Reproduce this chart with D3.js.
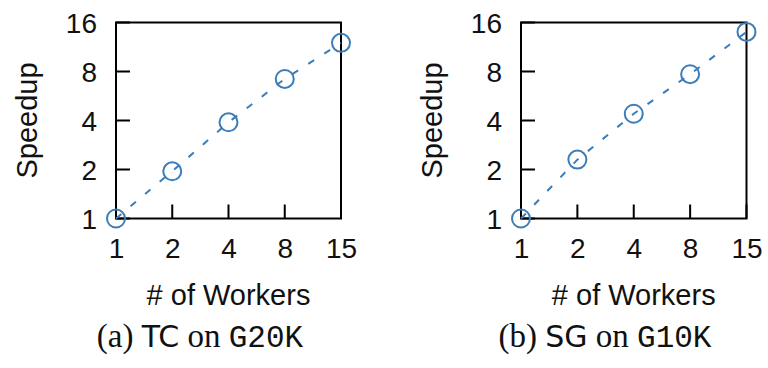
<!DOCTYPE html>
<html>
<head>
<meta charset="utf-8">
<script src="https://cdn.jsdelivr.net/npm/d3@7"></script>
<style>
  html, body { margin: 0; padding: 0; background: #fff; }
  svg { display: block; }
</style>
</head>
<body>
<svg id="chart" width="768" height="368"></svg>
<script>
// Data
const workers = ["1", "2", "4", "8", "15"];
const speedupTC = [1.0, 1.95, 3.9, 7.2, 12.0];
const speedupSG = [1.0, 2.3, 4.4, 7.7, 14.0];
const yTicks = [1, 2, 4, 8, 16];
const panels = [
  { values: speedupTC, letter: "(a) ", algo: "TC", graph: "G20K" },
  { values: speedupSG, letter: "(b) ", algo: "SG", graph: "G10K" }
];

const svg = d3.select("#chart");
const color = "#3a7db8";
const frames = [
  { x0: 116, x1: 341, y0: 22.5, y1: 218.5 },
  { x0: 521, x1: 746.5, y0: 22.5, y1: 218.5 }
];
const tickFont = "'Liberation Sans', Arial, Helvetica, sans-serif";
const tickLen = 14;

panels.forEach((p, i) => {
  const f = frames[i];
  const x = d3.scalePoint().domain(workers).range([f.x0, f.x1]).padding(0);
  const y = d3.scaleLog().base(2).domain([1, 16]).range([f.y1, f.y0]);
  const g = svg.append("g");

  const yAxis = d3.axisLeft(y).tickValues(yTicks).tickSize(0).tickFormat(d3.format("d")).tickPadding(19);
  const gy = g.append("g").attr("transform", `translate(${f.x0},0)`).call(yAxis);
  const xAxis = d3.axisBottom(x).tickSize(0).tickPadding(20);
  const gx = g.append("g").attr("transform", `translate(0,${f.y1})`).call(xAxis);
  [gx, gy].forEach(a => {
    a.select(".domain").remove();
    a.selectAll(".tick line").remove();
    a.selectAll(".tick text").attr("font-family", tickFont).attr("font-size", 28).attr("fill", "#111");
  });
  gy.selectAll(".tick text").attr("dy", "0.36em");
  gx.selectAll(".tick text").attr("dy", "0.71em");

  // frame
  g.append("rect")
    .attr("x", f.x0).attr("y", f.y0)
    .attr("width", f.x1 - f.x0).attr("height", f.y1 - f.y0)
    .attr("fill", "none").attr("stroke", "#000").attr("stroke-width", 2);

  // inward tick marks drawn as thin filled rects
  g.selectAll("rect.ytick").data(yTicks).join("rect").attr("class", "ytick")
    .attr("x", f.x0).attr("y", d => y(d) - 1)
    .attr("width", tickLen).attr("height", 2).attr("fill", "#000");
  g.selectAll("rect.xtick").data(workers).join("rect").attr("class", "xtick")
    .attr("x", d => x(d) - 1).attr("y", f.y1 - tickLen)
    .attr("width", 2).attr("height", tickLen).attr("fill", "#000");

  // line
  const data = workers.map((w, j) => ({ w, v: p.values[j] }));
  g.append("path").datum(data)
    .attr("fill", "none").attr("stroke", color).attr("stroke-width", 2)
    .attr("stroke-dasharray", "7,12")
    .attr("d", d3.line().x(d => x(d.w)).y(d => y(d.v)));
  g.selectAll("circle.pt").data(data).join("circle")
    .attr("class", "pt")
    .attr("cx", d => x(d.w)).attr("cy", d => y(d.v)).attr("r", 9)
    .attr("fill", "none").attr("stroke", color).attr("stroke-width", 2);

  // axis titles
  g.append("text")
    .attr("x", (f.x0 + f.x1) / 2).attr("y", f.y1 + 86.5)
    .attr("text-anchor", "middle")
    .attr("font-family", tickFont).attr("font-size", 29).attr("fill", "#111")
    .text("# of Workers");
  g.append("text")
    .attr("transform", `translate(${f.x0 - 79},${(f.y0 + f.y1) / 2}) rotate(-90)`)
    .attr("text-anchor", "middle")
    .attr("font-family", tickFont).attr("font-size", 29).attr("fill", "#111")
    .text("Speedup");

  // caption
  const cap = g.append("text")
    .attr("x", f.x0 + 84).attr("y", 347)
    .attr("text-anchor", "middle")
    .attr("font-size", 33).attr("fill", "#111");
  cap.append("tspan").attr("font-family", "'Liberation Serif', 'DejaVu Serif', serif").text(p.letter);
  cap.append("tspan").attr("font-family", "'DejaVu Sans', sans-serif").attr("font-size", 30).text(p.algo);
  cap.append("tspan").attr("font-family", "'Liberation Serif', 'DejaVu Serif', serif").text(" on ");
  cap.append("tspan").attr("font-family", "'Liberation Mono', 'DejaVu Sans Mono', monospace").attr("font-size", 31).text(p.graph);
});
</script>
</body>
</html>
